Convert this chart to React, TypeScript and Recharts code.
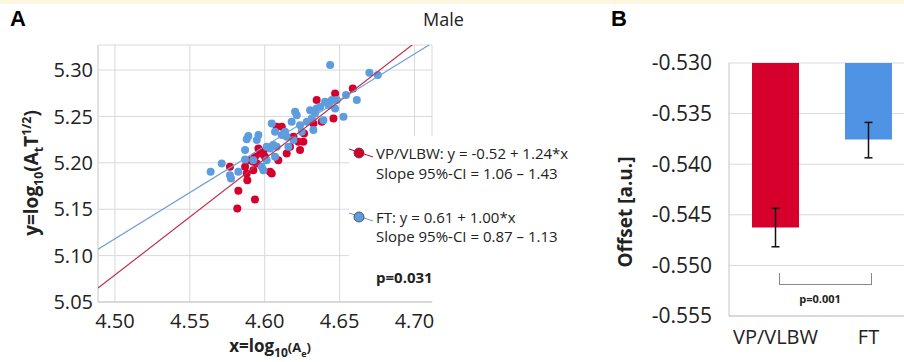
import React from "react"
import {
  Bar,
  BarChart,
  CartesianGrid,
  Cell,
  ErrorBar,
  Scatter,
  ScatterChart,
  XAxis,
  YAxis,
} from "recharts"

// panel A: scatter values
const vpPoints = [
  { x: 4.5768, y: 5.1957 }, { x: 4.5824, y: 5.1698 }, { x: 4.5817, y: 5.1507 },
  { x: 4.5935, y: 5.1604 }, { x: 4.5869, y: 5.1957 }, { x: 4.588, y: 5.1885 },
  { x: 4.5884, y: 5.1813 }, { x: 4.5924, y: 5.2011 }, { x: 4.5947, y: 5.1993 },
  { x: 4.5958, y: 5.2155 }, { x: 4.5969, y: 5.2101 }, { x: 4.5991, y: 5.2119 },
  { x: 4.6036, y: 5.1903 }, { x: 4.6047, y: 5.1885 }, { x: 4.608, y: 5.2388 },
  { x: 4.6114, y: 5.2388 }, { x: 4.6091, y: 5.2029 }, { x: 4.6147, y: 5.2101 },
  { x: 4.6192, y: 5.2281 }, { x: 4.6225, y: 5.2227 }, { x: 4.6236, y: 5.2137 },
  { x: 4.6258, y: 5.2227 }, { x: 4.6263, y: 5.2317 }, { x: 4.6347, y: 5.2676 },
  { x: 4.6381, y: 5.2442 }, { x: 4.647, y: 5.2748 }, { x: 4.6459, y: 5.2478 },
  { x: 4.6588, y: 5.2802 }, { x: 4.5902, y: 5.2029 }, { x: 4.5935, y: 5.2065 },
  { x: 4.6002, y: 5.2065 }, { x: 4.5924, y: 5.1921 }, { x: 4.6169, y: 5.2173 },
  { x: 4.6325, y: 5.2424 },
]

const ftPoints = [
  { x: 4.5639, y: 5.1903 }, { x: 4.5713, y: 5.1993 }, { x: 4.5768, y: 5.1867 },
  { x: 4.5775, y: 5.1831 }, { x: 4.5824, y: 5.1903 }, { x: 4.5869, y: 5.2137 },
  { x: 4.5869, y: 5.2036 }, { x: 4.588, y: 5.2255 }, { x: 4.5891, y: 5.2288 },
  { x: 4.5947, y: 5.2245 }, { x: 4.5958, y: 5.2299 }, { x: 4.5924, y: 5.2029 },
  { x: 4.598, y: 5.1957 }, { x: 4.5991, y: 5.1921 }, { x: 4.6013, y: 5.2029 },
  { x: 4.6036, y: 5.2155 }, { x: 4.6047, y: 5.2424 }, { x: 4.6069, y: 5.2335 },
  { x: 4.608, y: 5.2173 }, { x: 4.6114, y: 5.2299 }, { x: 4.6136, y: 5.2335 },
  { x: 4.6147, y: 5.2281 }, { x: 4.6158, y: 5.2173 }, { x: 4.618, y: 5.2442 },
  { x: 4.6203, y: 5.255 }, { x: 4.6214, y: 5.2514 }, { x: 4.6236, y: 5.2406 },
  { x: 4.6281, y: 5.2442 }, { x: 4.6303, y: 5.2568 }, { x: 4.6314, y: 5.2478 },
  { x: 4.6325, y: 5.2353 }, { x: 4.6347, y: 5.2586 }, { x: 4.637, y: 5.2604 },
  { x: 4.6392, y: 5.246 }, { x: 4.6403, y: 5.2658 }, { x: 4.6425, y: 5.2622 },
  { x: 4.6448, y: 5.2676 }, { x: 4.6481, y: 5.2676 }, { x: 4.647, y: 5.2586 },
  { x: 4.6526, y: 5.2496 }, { x: 4.6543, y: 5.273 }, { x: 4.6615, y: 5.2676 },
  { x: 4.6437, y: 5.3054 }, { x: 4.6699, y: 5.2971 }, { x: 4.6755, y: 5.2946 },
  { x: 4.6069, y: 5.2065 }, { x: 4.6192, y: 5.2245 }, { x: 4.6058, y: 5.2191 },
  { x: 4.6336, y: 5.2532 }, { x: 4.6247, y: 5.2335 }, { x: 4.6013, y: 5.2173 },
]

// fitted lines, end points
const vpFit = [{ x: 4.4887, y: 5.065 }, { x: 4.7, y: 5.329 }]
const ftFit = [{ x: 4.4887, y: 5.107 }, { x: 4.7117, y: 5.329 }]

const xTicksA = [4.5, 4.55, 4.6, 4.65, 4.7]
const yTicksA = [5.05, 5.1, 5.15, 5.2, 5.25, 5.3]

// panel B
const groups = ["VP/VLBW", "FT"]
const offsets = [-0.54626, -0.53757]
const offsetErr = [
  [0.0019, 0.0019],
  [0.0018, 0.0017],
]
const yTicksB = [-0.555, -0.55, -0.545, -0.54, -0.535, -0.53]

const RED = "#d5002c"
const BLUE = "#5b9ddf"
const BAR_BLUE = "#4f94e4"
const GRID = "#d9d9d9"
const FONT = "'Open Sans', sans-serif"

const barData = groups.map((g, i) => ({ name: g, offset: offsets[i], err: offsetErr[i] }))

const dot = (color: string) => (p: any) => <circle cx={p.cx} cy={p.cy} r={4} fill={color} />
const noDot = () => <g />

const abs = (s: React.CSSProperties): React.CSSProperties => ({ position: "absolute", ...s })

function LegendMarker({ color, top }: { color: string; top: number }) {
  return (
    <svg style={abs({ left: 346, top: top - 8, width: 30, height: 16 })}>
      <line x1={3} y1={4} x2={27} y2={12} stroke={color} strokeWidth={1} />
      <circle cx={13} cy={8} r={5} fill={color} stroke="#4a3a3a" strokeWidth={0.8} />
    </svg>
  )
}

function LegendText({ top, children, bold }: { top: number; children: React.ReactNode; bold?: boolean }) {
  return (
    <div
      style={abs({
        left: 376,
        top: top - 10,
        lineHeight: "20px",
        fontSize: 15,
        fontWeight: bold ? 700 : 400,
        color: "#222",
        whiteSpace: "nowrap",
      })}
    >
      {children}
    </div>
  )
}

export default function App() {
  const tickA = { fontSize: 20, fill: "#222", fontFamily: FONT }
  const tickB = { fontSize: 20, fill: "#222", fontFamily: FONT }
  const tickBY = { fontSize: 21, fill: "#222", fontFamily: FONT }
  return (
    <div
      style={{
        position: "fixed",
        left: 0,
        top: 0,
        width: 904,
        height: 362,
        overflow: "hidden",
        background: "#fff",
        fontFamily: FONT,
      }}
    >
      <div style={abs({ left: 0, top: 0, width: 904, height: 4, background: "#fdf6e1" })} />

      {/* panel A */}
      <div style={abs({ left: 0, top: 0 })}>
        <ScatterChart width={440} height={362} margin={{ top: 45, right: 8, bottom: 30, left: 0 }}>
          <CartesianGrid stroke={GRID} />
          <XAxis
            type="number"
            dataKey="x"
            height={30}
            domain={[4.4887, 4.7117]}
            ticks={xTicksA}
            allowDataOverflow
            tickFormatter={(v: number) => v.toFixed(2)}
            tick={tickA}
            tickSize={0}
            tickMargin={12}
            axisLine={{ stroke: "#c4c4c4" }}
          />
          <YAxis
            type="number"
            dataKey="y"
            width={98}
            domain={[5.05, 5.327]}
            ticks={yTicksA}
            allowDataOverflow
            tickFormatter={(v: number) => v.toFixed(2)}
            tick={tickA}
            tickSize={0}
            tickMargin={5}
            axisLine={{ stroke: GRID }}
          />
          <Scatter data={vpPoints} shape={dot(RED)} isAnimationActive={false} />
          <Scatter data={ftPoints} shape={dot(BLUE)} isAnimationActive={false} />
          <Scatter data={vpFit} line={{ stroke: "#c0304e", strokeWidth: 1.2 }} shape={noDot} isAnimationActive={false} />
          <Scatter data={ftFit} line={{ stroke: "#6f9fd6", strokeWidth: 1.2 }} shape={noDot} isAnimationActive={false} />
        </ScatterChart>
      </div>

      <div style={abs({ left: 349, top: 136, width: 235, height: 165, background: "#fff" })} />
      <LegendMarker color={RED} top={153} />
      <LegendMarker color={BLUE} top={217} />
      <LegendText top={153}>VP/VLBW: y = -0.52 + 1.24*x</LegendText>
      <LegendText top={173}>Slope 95%-CI = 1.06 – 1.43</LegendText>
      <LegendText top={217}>FT: y = 0.61 + 1.00*x</LegendText>
      <LegendText top={236}>Slope 95%-CI = 0.87 – 1.13</LegendText>
      <LegendText top={277} bold>
        p=0.031
      </LegendText>

      <div style={abs({ left: 10, top: 6, fontSize: 22, fontWeight: 700, fontFamily: "'Liberation Sans', Arial" })}>A</div>
      <div style={abs({ left: 423, top: 7, fontSize: 18, color: "#222" })}>Male</div>
      <div
        style={abs({
          left: 33,
          top: 173,
          transform: "translate(-50%, -50%) rotate(-90deg)",
          fontSize: 19,
          fontWeight: 700,
          whiteSpace: "nowrap",
          lineHeight: 1,
          color: "#222",
        })}
      >
        y=log<sub style={{ fontSize: "0.65em" }}>10</sub>(A<sub style={{ fontSize: "0.65em" }}>t</sub>T
        <sup style={{ fontSize: "0.65em" }}>1/2</sup>)
      </div>
      <div
        style={abs({
          left: 270,
          top: 348,
          transform: "translate(-50%, -50%)",
          fontWeight: 700,
          whiteSpace: "nowrap",
          lineHeight: 1,
          color: "#222",
        })}
      >
        <span style={{ fontSize: 17 }}>x=log</span>
        <sub style={{ fontSize: 12 }}>10</sub>
        <span style={{ fontSize: 13 }}>(A</span>
        <sub style={{ fontSize: 9 }}>e</sub>
        <span style={{ fontSize: 13 }}>)</span>
      </div>

      {/* panel B */}
      <div style={abs({ left: 640, top: 0 })}>
        <BarChart width={300} height={362} data={barData} margin={{ top: 63, right: 25, bottom: 16, left: 0 }}>
          <CartesianGrid stroke={GRID} vertical={false} />
          <XAxis
            dataKey="name"
            height={30}
            tick={tickB}
            tickSize={0}
            tickMargin={14}
            axisLine={{ stroke: "#c4c4c4" }}
          />
          <YAxis
            width={89}
            domain={[-0.555, -0.53]}
            ticks={yTicksB}
            allowDataOverflow
            tickFormatter={(v: number) => v.toFixed(3)}
            tick={tickBY}
            tickSize={0}
            tickMargin={17}
            axisLine={{ stroke: "#c4c4c4" }}
          />
          <Bar dataKey="offset" barSize={47} isAnimationActive={false}>
            {barData.map((d, i) => (
              <Cell key={d.name} fill={i === 0 ? RED : BAR_BLUE} />
            ))}
            <ErrorBar dataKey="err" width={4} stroke="#111" strokeWidth={1.5} />
          </Bar>
        </BarChart>
      </div>

      <div style={abs({ left: 611, top: 6, fontSize: 22, fontWeight: 700, fontFamily: "'Liberation Sans', Arial" })}>B</div>
      <div
        style={abs({
          left: 625,
          top: 212,
          transform: "translate(-50%, -50%) rotate(-90deg)",
          fontSize: 19,
          fontWeight: 700,
          whiteSpace: "nowrap",
          lineHeight: 1,
          color: "#222",
        })}
      >
        Offset [a.u.]
      </div>
      <div
        style={abs({
          left: 779,
          top: 273,
          width: 91,
          height: 11,
          borderLeft: "1.5px solid #888",
          borderRight: "1.5px solid #888",
          borderBottom: "1.5px solid #888",
        })}
      />
      <div
        style={abs({
          left: 820,
          top: 298,
          transform: "translate(-50%, -50%)",
          fontSize: 11,
          fontWeight: 700,
          color: "#222",
          whiteSpace: "nowrap",
        })}
      >
        p=0.001
      </div>
    </div>
  )
}
